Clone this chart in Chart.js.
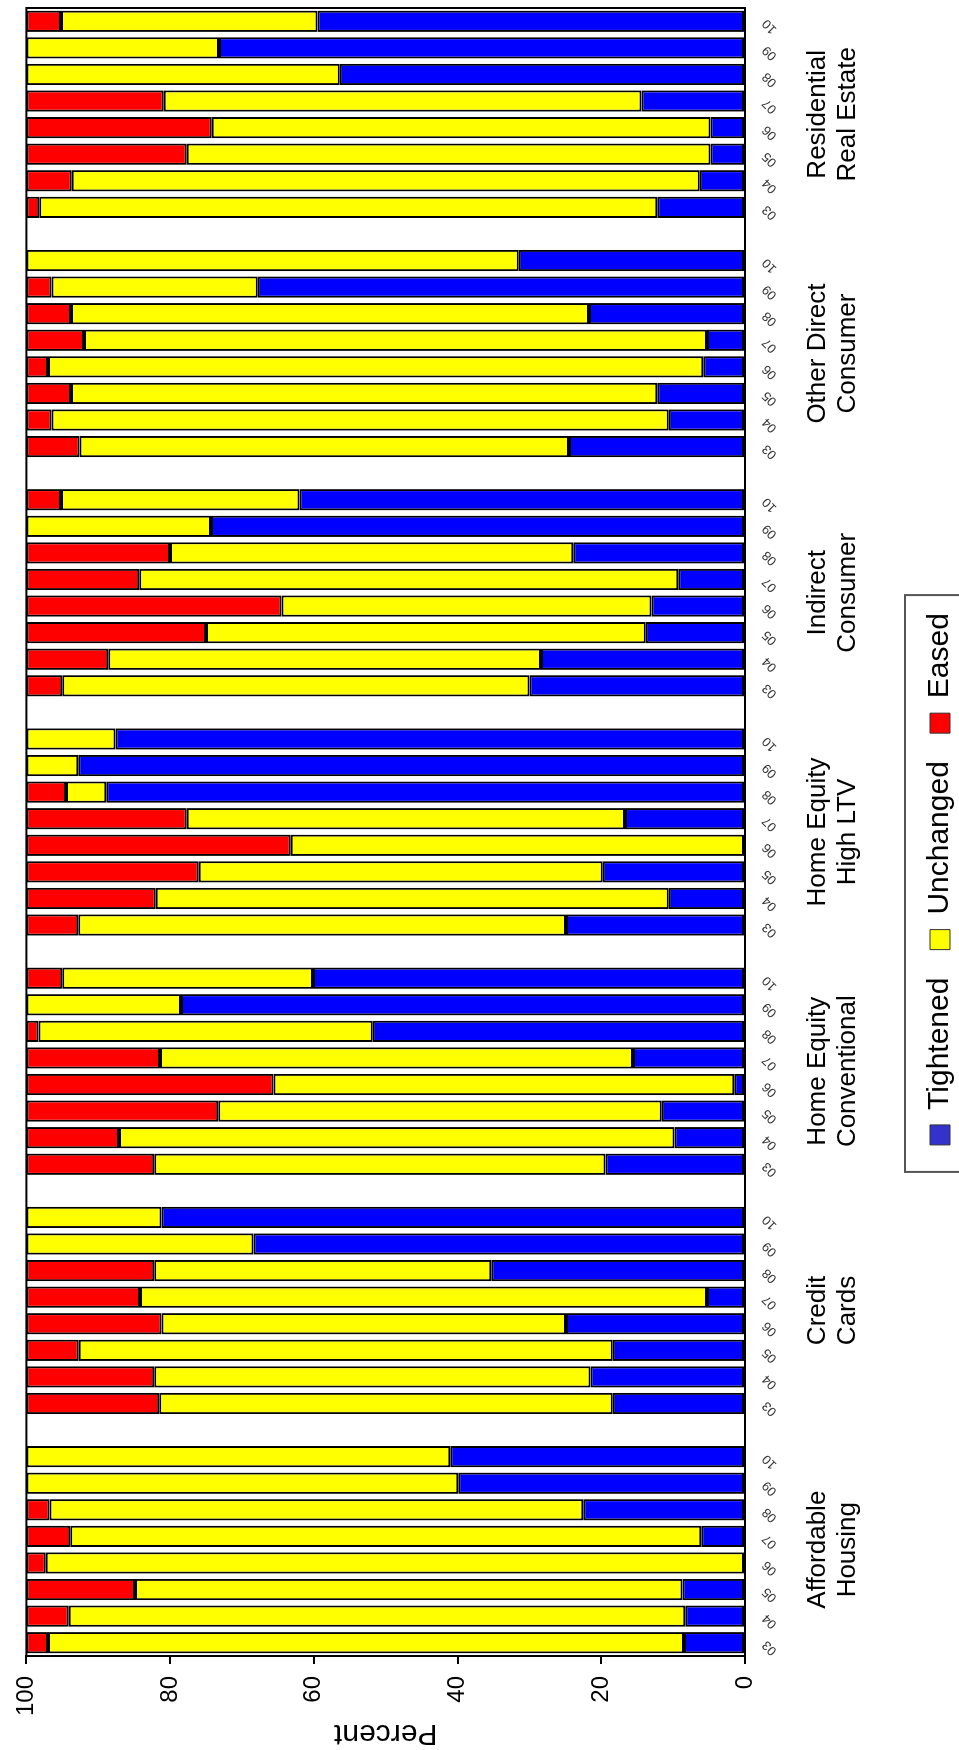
<!DOCTYPE html>
<html>
<head>
<meta charset="utf-8">
<title>Changes in lending standards</title>
<script src="https://cdn.jsdelivr.net/npm/chart.js@4.4.1/dist/chart.umd.min.js"></script>
<style>
  html, body { margin: 0; padding: 0; overflow: hidden; background: #fff; }
  /* the chart is drawn upright and then turned a quarter turn to the left */
  #wrap {
    position: absolute; left: 0; top: 0;
    width: 1750px; height: 959px;
    transform-origin: 0 0;
    transform: translate(0, 1750px) rotate(-90deg);
  }
</style>
</head>
<body>
<div id="wrap"><canvas id="chart" width="1750" height="959"></canvas></div>
<script>
const groups = [
    ['Affordable', 'Housing'],
    ['Credit', 'Cards'],
    ['Home Equity', 'Conventional'],
    ['Home Equity', 'High LTV'],
    ['Indirect', 'Consumer'],
    ['Other Direct', 'Consumer'],
    ['Residential', 'Real Estate']
];
const years = ['03', '04', '05', '06', '07', '08', '09', '10'];

// percent of respondents, one row of 8 years per loan type
const tightened = [
    8.5, 8.3, 8.7, 0, 6.1, 22.5, 39.9, 41.0,
    18.4, 21.5, 18.4, 24.9, 5.3, 35.3, 68.4, 81.2,
    19.4, 9.8, 11.6, 1.5, 15.6, 51.8, 78.5, 60.1,
    24.9, 10.6, 19.8, 0, 16.7, 88.9, 92.8, 87.6,
    30.0, 28.4, 13.8, 13.0, 9.3, 23.9, 74.3, 62.0,
    24.5, 10.6, 12.2, 5.8, 5.3, 21.7, 67.8, 31.5,
    12.2, 6.3, 4.8, 4.8, 14.4, 56.4, 73.2, 59.5
];
const unchanged = [
    88.5, 85.8, 76.2, 97.3, 87.8, 74.3, 60.1, 59.0,
    63.1, 60.7, 74.3, 56.3, 78.9, 46.9, 31.6, 18.8,
    62.8, 77.3, 61.7, 64.1, 65.8, 46.5, 21.5, 34.9,
    67.9, 71.4, 56.2, 63.2, 61.0, 5.6, 7.2, 12.4,
    65.0, 60.2, 61.2, 51.5, 75.0, 56.1, 25.7, 33.2,
    68.1, 85.9, 81.6, 91.2, 86.7, 72.1, 28.7, 68.5,
    86.0, 87.4, 72.9, 69.4, 66.5, 43.6, 26.8, 35.7
];
const eased = [
    3.0, 5.9, 15.1, 2.7, 6.1, 3.2, 0, 0,
    18.5, 17.8, 7.3, 18.8, 15.8, 17.8, 0, 0,
    17.8, 12.9, 26.7, 34.4, 18.6, 1.7, 0, 5.0,
    7.2, 18.0, 24.0, 36.8, 22.3, 5.5, 0, 0,
    5.0, 11.4, 25.0, 35.5, 15.7, 20.0, 0, 4.8,
    7.4, 3.5, 6.2, 3.0, 8.0, 6.2, 3.5, 0,
    1.8, 6.3, 22.3, 25.8, 19.1, 0, 0, 4.8
];
const percentTicks = [0, 20, 40, 60, 80, 100];

// an empty slot between loan types
function withGaps(values) {
    const out = [];
    values.forEach((v, i) => {
        if (i > 0 && i % years.length === 0) out.push(null);
        out.push(v);
    });
    return out;
}

const labels = groups.flatMap((g, gi) => gi ? [''].concat(years) : years);
const groupCenters = groups.map((g, gi) => gi * (years.length + 1) + (years.length - 1) / 2);

Chart.defaults.font.family = '"Liberation Sans", Arial, sans-serif';
Chart.defaults.color = '#000';

const plotBorder = {
    id: 'plotBorder',
    afterDatasetsDraw(chart) {
        const { ctx, chartArea: a } = chart;
        ctx.save();
        ctx.strokeStyle = '#000';
        ctx.lineWidth = 2;
        ctx.strokeRect(a.left, a.top, a.right - a.left, a.bottom - a.top);
        ctx.restore();
    }
};

const legendFrame = {
    id: 'legendFrame',
    afterDraw(chart) {
        const boxes = chart.legend && chart.legend.legendHitBoxes;
        if (!boxes || !boxes.length) return;
        const left = Math.min(...boxes.map(b => b.left)) - 27;
        const right = Math.max(...boxes.map(b => b.left + b.width)) + 18;
        const top = Math.min(...boxes.map(b => b.top)) - 20;
        const ctx = chart.ctx;
        ctx.save();
        ctx.strokeStyle = '#555';
        ctx.lineWidth = 2;
        ctx.strokeRect(left, top, right - left, chart.height + 20 - top);
        ctx.restore();
    }
};

const barStyle = {
    borderColor: '#000',
    borderWidth: 2,
    borderSkipped: false,
    categoryPercentage: 1.0,
    barPercentage: 0.8
};

const chart = new Chart(document.getElementById('chart'), {
    type: 'bar',
    data: {
        labels: labels,
        datasets: [
            { label: 'Tightened', data: withGaps(tightened), backgroundColor: '#0000ff', ...barStyle },
            { label: 'Unchanged', data: withGaps(unchanged), backgroundColor: '#ffff00', ...barStyle },
            { label: 'Eased', data: withGaps(eased), backgroundColor: '#ff0000', ...barStyle }
        ]
    },
    options: {
        responsive: false,
        animation: false,
        devicePixelRatio: 1,
        layout: { padding: { top: 19, right: 8, left: 0, bottom: -6 } },
        plugins: {
            tooltip: { enabled: false },
            legend: {
                position: 'bottom',
                labels: {
                    font: { size: 30 },
                    boxWidth: 20,
                    boxHeight: 20,
                    padding: 28,
                    generateLabels(chart) {
                        const items = Chart.defaults.plugins.legend.labels.generateLabels(chart);
                        return items.map(it => ({
                            ...it,
                            fillStyle: it.text === 'Tightened' ? '#3333cc' : it.fillStyle,
                            strokeStyle: '#333',
                            lineWidth: 1
                        }));
                    }
                }
            }
        },
        scales: {
            x: {
                stacked: true,
                grid: { display: false },
                border: { display: true, color: '#000', width: 2 },
                ticks: {
                    autoSkip: false,
                    minRotation: 45,
                    maxRotation: 45,
                    padding: 6,
                    color: '#333',
                    font: { size: 13 }
                },
                afterFit(scale) { scale.height = 52; }
            },
            // loan type names, centred under each block of years
            xGroup: {
                type: 'linear',
                position: 'bottom',
                offset: false,
                bounds: 'data',
                min: -0.5,
                max: labels.length - 0.5,
                grid: { display: false, drawTicks: false },
                border: { display: false },
                afterBuildTicks(scale) {
                    scale.ticks = groupCenters.map(v => ({ value: v }));
                },
                ticks: {
                    autoSkip: false,
                    maxRotation: 0,
                    padding: 6,
                    font: { size: 26, lineHeight: 1.15 },
                    callback(value) {
                        const gi = groupCenters.indexOf(value);
                        return gi >= 0 ? groups[gi] : '';
                    }
                },
                afterFit(scale) { scale.height = 100; }
            },
            y: {
                stacked: true,
                min: 0,
                max: 100,
                grid: { display: true, drawOnChartArea: false, drawTicks: true, tickLength: 8, color: '#000', lineWidth: 2 },
                border: { display: true, color: '#000', width: 2 },
                afterBuildTicks(scale) {
                    scale.ticks = percentTicks.map(v => ({ value: v }));
                },
                ticks: { padding: 12, font: { size: 24 } },
                title: {
                    display: true,
                    text: 'Percent',
                    font: { size: 30, lineHeight: 1 },
                    padding: { top: 2, bottom: 0 }
                },
                afterFit(scale) { scale.width = 94; }
            }
        }
    },
    plugins: [plotBorder, legendFrame]
});
</script>
</body>
</html>
